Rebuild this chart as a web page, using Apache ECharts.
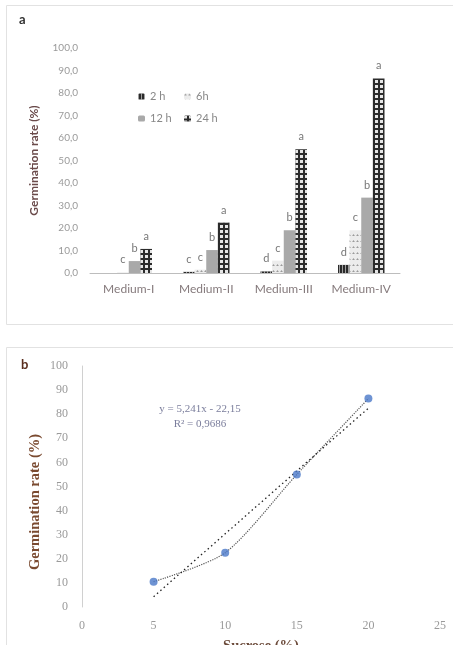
<!DOCTYPE html>
<html><head><meta charset="utf-8">
<script src="https://cdn.jsdelivr.net/npm/echarts@6/dist/echarts.min.js"></script>
<style>html,body{margin:0;padding:0;background:#fff}#c{width:453px;height:645px}</style>
</head><body><div id="c"></div>
<script>
// Panel a data
const categories = ['Medium-I', 'Medium-II', 'Medium-III', 'Medium-IV'];
const seriesNames = ['2 h', '6h', '12 h', '24 h'];
const h2 = [0, 0.5, 0.7, 3.6];
const h6 = [0.3, 1.5, 5.5, 19];
const h12 = [5.3, 10.2, 19, 33.5];
const h24 = [10.7, 22.4, 55, 86.5];
const letters2 = ['', 'c', 'd', 'd'];
const letters6 = ['c', 'c', 'c', 'c'];
const letters12 = ['b', 'b', 'b', 'b'];
const letters24 = ['a', 'a', 'a', 'a'];
const yTicksA = [0, 10, 20, 30, 40, 50, 60, 70, 80, 90, 100];
// Panel b data
const sucrose = [5, 10, 15, 20];
const germRate = [10.5, 22.5, 55, 86.5];
const trendX = [5, 20];
const trendY = [4.3, 82.5];
const equationText = ['y = 5,241x - 22,15', 'R² = 0,9686'];

const chart = echarts.init(document.getElementById('c'), null, {renderer: 'canvas'});
function letterLabel(arr) {
  return {show: true, position: 'top', distance: 7, color: '#777', fontSize: 11, fontFamily: 'Lato',
          formatter: p => arr[p.dataIndex]};
}
const option = {
  animation: false,
  backgroundColor: '#fff',
  textStyle: {fontFamily: 'Lato'},
  grid: [
    {left: 90, right: 53, top: 48, bottom: 372, outerBoundsMode: 'none', containLabel: false},
    {left: 82, right: 13, top: 366, bottom: 38, outerBoundsMode: 'none', containLabel: false}
  ],
  legend: [
    {data: ['2 h', '12 h'], orient: 'vertical', left: 133, top: 86, itemWidth: 7, itemHeight: 6, itemGap: 11,
     textStyle: {color: '#888', fontSize: 11, fontFamily: 'Lato'}},
    {data: ['6h', '24 h'], orient: 'vertical', left: 179, top: 86, itemWidth: 7, itemHeight: 6, itemGap: 11,
     textStyle: {color: '#888', fontSize: 11, fontFamily: 'Lato'}}
  ],
  xAxis: [
    {gridIndex: 0, type: 'category', data: categories,
     axisLine: {lineStyle: {color: '#bdbdbd'}}, axisTick: {show: false},
     axisLabel: {color: '#857a7c', fontSize: 12, margin: 10, fontFamily: 'Lato'}},
    {gridIndex: 1, type: 'value', min: 0, max: 25, interval: 5,
     name: 'Sucrose (%)', nameLocation: 'middle', nameGap: 32,
     nameTextStyle: {color: '#6b4a3a', fontSize: 14.5, fontWeight: 'bold', fontFamily: 'Liberation Serif'},
     axisLine: {show: false}, axisTick: {show: false}, splitLine: {show: false},
     axisLabel: {color: '#9a9a9a', fontSize: 12, margin: 13, fontFamily: 'Liberation Serif'}}
  ],
  yAxis: [
    {gridIndex: 0, type: 'value', min: yTicksA[0], max: yTicksA[yTicksA.length - 1], interval: 10,
     name: 'Germination rate (%)', nameLocation: 'middle', nameGap: 50, nameRotate: 90,
     nameTextStyle: {color: '#6a4a4a', fontSize: 12, fontWeight: 'bold', fontFamily: 'Lato'},
     axisLine: {show: false}, axisTick: {show: false}, splitLine: {show: false},
     axisLabel: {color: '#9a9a9a', fontSize: 10, margin: 12, fontFamily: 'Lato',
                 formatter: v => v.toFixed(1).replace('.', ',')}},
    {gridIndex: 1, type: 'value', min: 0, max: 100, interval: 10,
     axisLine: {show: true, lineStyle: {color: '#d0d0d0'}}, axisTick: {show: false}, splitLine: {show: false},
     axisLabel: {color: '#9a9a9a', fontSize: 12, margin: 14, fontFamily: 'Liberation Serif'}}
  ],
  series: [
    {name: seriesNames[0], type: 'bar', xAxisIndex: 0, yAxisIndex: 0, data: h2,
     barGap: '0%', barCategoryGap: '40%',
     itemStyle: {color: '#2a2a2a', decal: {symbol: 'rect', color: 'rgba(255,255,255,0.55)', dashArrayX: [1, 2], dashArrayY: [4, 0], symbolSize: 1, rotation: 0}},
     label: letterLabel(letters2)},
    {name: seriesNames[1], type: 'bar', xAxisIndex: 0, yAxisIndex: 0, data: h6,
     barGap: '0%', barCategoryGap: '40%',
     itemStyle: {color: '#ececec', decal: {symbol: 'triangle', color: '#9a9a9a', dashArrayX: [3, 1], dashArrayY: [2, 4], symbolSize: 0.9, rotation: 0}},
     label: letterLabel(letters6)},
    {name: seriesNames[2], type: 'bar', xAxisIndex: 0, yAxisIndex: 0, data: h12,
     barGap: '0%', barCategoryGap: '40%',
     itemStyle: {color: '#a9a9a9'},
     label: letterLabel(letters12)},
    {name: seriesNames[3], type: 'bar', xAxisIndex: 0, yAxisIndex: 0, data: h24,
     barGap: '0%', barCategoryGap: '40%',
     itemStyle: {color: '#2b2b2b', decal: {symbol: 'rect', color: '#e6e6e6', dashArrayX: [3, 2], dashArrayY: [3, 2], symbolSize: 1, rotation: 0}},
     label: letterLabel(letters24)},
    {type: 'line', xAxisIndex: 1, yAxisIndex: 1, data: sucrose.map((x, i) => [x, germRate[i]]),
     smooth: 0.25, symbol: 'none', lineStyle: {color: '#555', width: 1.2, type: 'dotted'}, z: 2},
    {type: 'line', xAxisIndex: 1, yAxisIndex: 1, data: trendX.map((x, i) => [x, trendY[i]]),
     symbol: 'none', lineStyle: {color: '#222', width: 1.3, type: [1.5, 3]}, z: 2},
    {type: 'scatter', xAxisIndex: 1, yAxisIndex: 1, data: sucrose.map((x, i) => [x, germRate[i]]),
     symbolSize: 8, itemStyle: {color: '#4a78c8'}, z: 3}
  ],
  graphic: [
    {type: 'rect', shape: {x: 6.5, y: 5.5, width: 460, height: 319}, style: {fill: 'none', stroke: '#e2e2e2', lineWidth: 1}, silent: true},
    {type: 'rect', shape: {x: 6.5, y: 347.5, width: 460, height: 320}, style: {fill: 'none', stroke: '#e2e2e2', lineWidth: 1}, silent: true},
    {type: 'text', left: 19, top: 13, style: {text: 'a', fill: '#333', font: 'bold 13px Lato'}},
    {type: 'text', left: 21, top: 358, style: {text: 'b', fill: '#5a2e1e', font: 'bold 13px Lato'}},
    {type: 'text', x: 35, y: 502, rotation: Math.PI / 2,
     style: {text: 'Germination rate (%)', fill: '#7a4a30', font: 'bold 14.5px Liberation Serif', align: 'center', verticalAlign: 'middle'}},
    {type: 'text', x: 200, y: 409, style: {text: equationText[0], fill: '#7b7e9c', font: '11px Liberation Serif', align: 'center', verticalAlign: 'middle'}},
    {type: 'text', x: 200, y: 424, style: {text: equationText[1], fill: '#7b7e9c', font: '11px Liberation Serif', align: 'center', verticalAlign: 'middle'}}
  ]
};
chart.setOption(option);
</script></body></html>
